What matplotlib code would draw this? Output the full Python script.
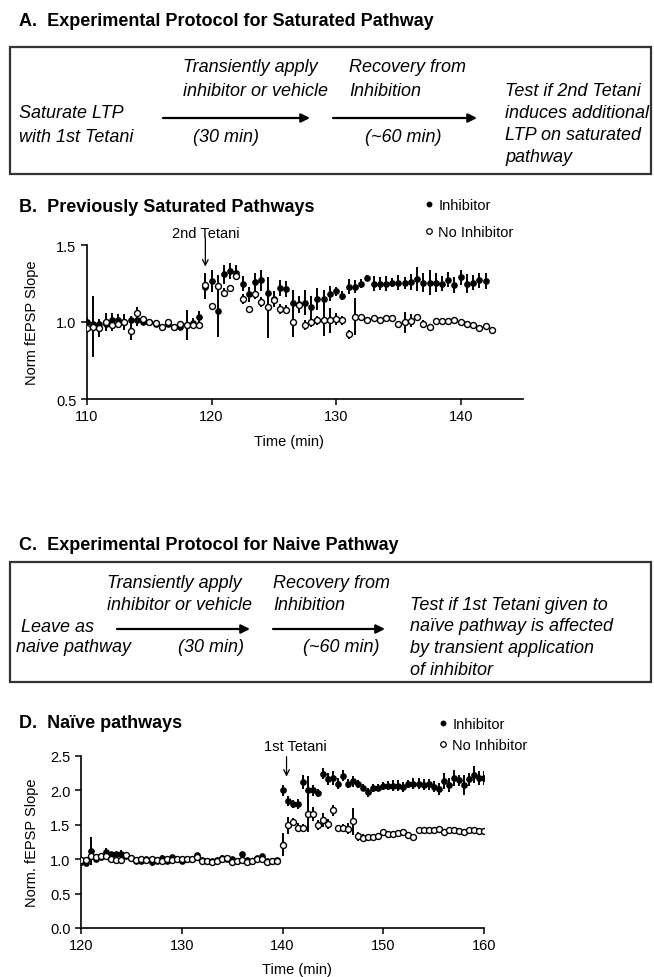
import numpy as np
import matplotlib
matplotlib.use("Agg")
import matplotlib.pyplot as plt
from matplotlib.lines import Line2D
from matplotlib.patches import Rectangle

plt.rcParams['font.family'] = ['Liberation Sans', 'DejaVu Sans']

# ---------------- data ----------------
# panel B: previously saturated pathways, sampled every 0.5 min from 110 min
b_t0, b_step, b_n = 110.0, 0.5, 66
b_inh = [1.00, 0.985, 0.985, 0.99, 1.01, 1.015, 1.00, 1.01, 1.015, 1.00,
         1.00, 0.99, 0.97, 0.99, 0.965, 0.965, 0.98, 0.995, 1.03, 1.23,
         1.265, 1.07, 1.31, 1.33, 1.32, 1.25, 1.18, 1.26, 1.27, 1.19,
         1.15, 1.22, 1.215, 1.125, 1.12, 1.125, 1.10, 1.15, 1.15, 1.185,
         1.20, 1.17, 1.23, 1.23, 1.25, 1.285, 1.25, 1.25, 1.25, 1.255,
         1.255, 1.255, 1.26, 1.28, 1.255, 1.255, 1.255, 1.25, 1.275, 1.24,
         1.29, 1.25, 1.255, 1.27, 1.265, np.nan]
b_inh_err = [0.03, 0.03, 0.03, 0.05, 0.05, 0.04, 0.05, 0.03, 0.04, 0.02,
             0.02, 0.02, 0.02, 0.02, 0.02, 0.02, 0.10, 0.03, 0.04, 0.08,
             0.07, 0.17, 0.06, 0.05, 0.05, 0.05, 0.05, 0.06, 0.07, 0.06,
             0.05, 0.05, 0.05, 0.08, 0.05, 0.08, 0.07, 0.07, 0.06, 0.05,
             0.03, 0.03, 0.05, 0.04, 0.03, 0.02, 0.05, 0.04, 0.05, 0.03,
             0.05, 0.04, 0.05, 0.08, 0.06, 0.08, 0.06, 0.05, 0.05, 0.05,
             0.05, 0.06, 0.05, 0.05, 0.05, np.nan]
b_noinh = [0.96, 0.97, 0.96, 1.00, 0.98, 0.99, 1.00, 0.94, 1.06, 1.02,
           1.00, 0.995, 0.97, 1.00, 0.97, 0.985, 0.98, 0.98, 0.98, 1.24,
           1.105, 1.237, 1.19, 1.22, 1.30, 1.15, 1.085, 1.18, 1.13, 1.095,
           1.14, 1.085, 1.08, 1.00, 1.11, 0.98, 1.00, 1.01, 1.01, 1.01,
           1.02, 1.01, 0.92, 1.035, 1.03, 1.013, 1.024, 1.01, 1.024, 1.024,
           0.987, 0.998, 1.009, 1.035, 0.99, 0.966, 1.004, 1.004, 1.009, 1.015,
           0.998, 0.987, 0.98, 0.96, 0.975, 0.95]
b_noinh_err = [0.02, 0.20, 0.06, 0.06, 0.04, 0.03, 0.03, 0.06, 0.04, 0.02,
               0.02, 0.02, 0.02, 0.02, 0.02, 0.02, 0.03, 0.02, 0.02, 0.08,
               0.02, 0.07, 0.03, 0.02, 0.02, 0.03, 0.02, 0.03, 0.03, 0.20,
               0.04, 0.03, 0.03, 0.10, 0.05, 0.03, 0.03, 0.03, 0.10, 0.08,
               0.04, 0.03, 0.03, 0.12, 0.02, 0.02, 0.02, 0.02, 0.02, 0.02,
               0.02, 0.07, 0.04, 0.02, 0.02, 0.02, 0.02, 0.02, 0.02, 0.02,
               0.02, 0.02, 0.02, 0.02, 0.02, 0.02]

# panel D: naive pathways, sampled every 0.5 min from 120 min
d_t0, d_step, d_n = 120.0, 0.5, 81
d_inh = [0.955, 0.945, 1.12, 1.00, 1.03, 1.10, 1.07, 1.07, 1.08, 1.04,
         1.02, 0.97, 0.98, 1.00, 0.96, 0.97, 1.02, 0.98, 1.03, 1.00,
         0.98, 1.00, 1.01, 1.06, 0.99, 0.97, 0.98, 0.99, 1.02, 1.01,
         1.00, 0.98, 1.07, 0.99, 0.98, 1.02, 1.04, 0.97, 0.98, 0.99,
         2.00, 1.85, 1.80, 1.80, 2.12, 2.01, 2.00, 1.96, 2.24, 2.17,
         2.18, 2.10, 2.21, 2.10, 2.13, 2.09, 2.04, 1.97, 2.03, 2.04,
         2.06, 2.07, 2.07, 2.07, 2.05, 2.09, 2.10, 2.10, 2.08, 2.09,
         2.05, 2.02, 2.14, 2.08, 2.18, 2.15, 2.08, 2.16, 2.23, 2.18,
         2.18]
d_inh_err = [0.03, 0.03, 0.20, 0.04, 0.03, 0.06, 0.03, 0.03, 0.05, 0.02,
             0.03, 0.03, 0.04, 0.02, 0.06, 0.03, 0.04, 0.03, 0.03, 0.02,
             0.02, 0.02, 0.02, 0.03, 0.02, 0.02, 0.02, 0.03, 0.04, 0.02,
             0.03, 0.03, 0.04, 0.03, 0.03, 0.02, 0.02, 0.03, 0.02, 0.02,
             0.08, 0.07, 0.06, 0.07, 0.10, 0.20, 0.08, 0.06, 0.08, 0.09,
             0.10, 0.08, 0.08, 0.07, 0.08, 0.06, 0.05, 0.07, 0.06, 0.05,
             0.06, 0.07, 0.08, 0.08, 0.07, 0.06, 0.08, 0.08, 0.08, 0.08,
             0.08, 0.09, 0.12, 0.10, 0.12, 0.08, 0.15, 0.09, 0.12, 0.10,
             0.10]
d_noinh = [0.99, 0.99, 1.04, 1.03, 1.05, 1.04, 1.00, 0.99, 0.99, 1.06,
           1.02, 0.99, 1.01, 0.99, 1.00, 0.99, 0.98, 1.00, 0.99, 1.01,
           1.00, 1.01, 1.00, 1.03, 0.98, 0.97, 0.96, 0.97, 1.01, 1.02,
           0.96, 0.98, 0.99, 0.96, 0.98, 1.01, 1.00, 0.96, 0.97, 0.97,
           1.21, 1.49, 1.54, 1.46, 1.45, 1.65, 1.66, 1.50, 1.57, 1.51,
           1.71, 1.45, 1.45, 1.44, 1.55, 1.33, 1.31, 1.32, 1.32, 1.33,
           1.39, 1.36, 1.37, 1.38, 1.39, 1.35, 1.32, 1.43, 1.42, 1.42,
           1.43, 1.44, 1.40, 1.42, 1.43, 1.41, 1.40, 1.42, 1.43, 1.41,
           1.41]
d_noinh_err = [0.03, 0.03, 0.04, 0.03, 0.03, 0.03, 0.03, 0.02, 0.03, 0.02,
               0.02, 0.02, 0.03, 0.02, 0.02, 0.02, 0.02, 0.02, 0.02, 0.02,
               0.02, 0.02, 0.02, 0.02, 0.02, 0.02, 0.02, 0.02, 0.02, 0.02,
               0.02, 0.03, 0.02, 0.02, 0.02, 0.02, 0.02, 0.02, 0.02, 0.02,
               0.17, 0.12, 0.06, 0.06, 0.06, 0.25, 0.10, 0.07, 0.10, 0.07,
               0.08, 0.05, 0.06, 0.08, 0.20, 0.06, 0.05, 0.04, 0.04, 0.04,
               0.04, 0.04, 0.04, 0.04, 0.04, 0.04, 0.04, 0.03, 0.03, 0.03,
               0.03, 0.03, 0.03, 0.03, 0.03, 0.03, 0.03, 0.03, 0.03, 0.03,
               0.03]

legend_labels = ['Inhibitor', 'No Inhibitor']

box_a_steps = ['Transiently apply', 'inhibitor or vehicle']
box_a_recov = ['Recovery from', 'Inhibition']
box_a_start = ['Saturate LTP', 'with 1st Tetani']
box_a_test = ['Test if 2nd Tetani', 'induces additional', 'LTP on saturated', 'pathway']
box_c_start = ['Leave as', 'naive pathway']
box_c_test = ['Test if 1st Tetani given to', 'naïve pathway is affected',
              'by transient application', 'of inhibitor']

W, H = 654, 978
TXT = 13
fig = plt.figure(figsize=(W / 100, H / 100), dpi=100)

# overlay in pixel coordinates for the titles and protocol boxes
ov = fig.add_axes([0, 0, 1, 1])
ov.set_xlim(0, W)
ov.set_ylim(H, 0)
ov.axis('off')


def itext(x, y, s, ha='left'):
    ov.text(x, y, s, style='italic', fontsize=TXT, ha=ha, va='center')


def lines(x, y0, txt, step=22.5, ha='left'):
    for i, s in enumerate(txt):
        itext(x, y0 + i * step, s, ha=ha)


def title(x, y, s):
    ov.text(x, y, s, fontsize=TXT, fontweight='bold', va='center')


def arrow(x0, x1, y):
    ov.annotate('', xy=(x1, y), xytext=(x0, y),
                arrowprops=dict(arrowstyle='-|>', lw=1.6, color='k', mutation_scale=13,
                                shrinkA=0, shrinkB=0))


def box(y0, y1):
    ov.add_patch(Rectangle((10, y0), 641, y1 - y0, fill=False, lw=1.6, ec='#333333'))


# Panel A
title(19, 22, 'A.  Experimental Protocol for Saturated Pathway')
box(48, 175)
lines(19, 113, box_a_start, step=24)
lines(183, 68, box_a_steps, step=24)
lines(349, 68, box_a_recov, step=24)
arrow(163, 310, 119)
arrow(333, 477, 119)
itext(193, 137, '(30 min)')
itext(365, 137, '(~60 min)')
lines(505, 92, box_a_test, step=22)

# Panel C
title(19, 545, 'C.  Experimental Protocol for Naive Pathway')
box(563, 683)
lines(107, 583, box_a_steps, step=22)
lines(273, 583, box_a_recov, step=22)
itext(21, 627, box_c_start[0])
itext(16, 648, box_c_start[1])
arrow(117, 250, 630)
arrow(273, 385, 630)
itext(178, 648, '(30 min)')
itext(303, 648, '(~60 min)')
lines(410, 605, box_c_test, step=21.7)

title(19, 208, 'B.  Previously Saturated Pathways')
title(19, 723, 'D.  Naïve pathways')


def panel(rect, t0, step, n, inh, inh_err, noinh, noinh_err):
    ax = fig.add_axes(rect)
    t = t0 + step * np.arange(n)
    ax.errorbar(t, inh, yerr=inh_err, fmt='o', color='k', ms=3.8, elinewidth=1.4,
                capsize=0, zorder=3)
    ax.errorbar(t, noinh, yerr=noinh_err, fmt='o', color='k', mfc='white', mec='k',
                mew=1.0, ms=4.3, elinewidth=1.4, capsize=0, zorder=4)
    for s in ['top', 'right']:
        ax.spines[s].set_visible(False)
    for s in ['left', 'bottom']:
        ax.spines[s].set_linewidth(1.2)
    ax.tick_params(direction='out', length=4, width=1.1, labelsize=10.5)
    return ax


def px_rect(x0, x1, ytop, ybot):
    return [x0 / W, 1 - ybot / H, (x1 - x0) / W, (ybot - ytop) / H]


handles = [Line2D([], [], marker='o', ls='none', color='k', ms=3.2),
           Line2D([], [], marker='o', ls='none', mfc='white', mec='k', mew=0.9, ms=4)]

# Panel B
axb = panel(px_rect(87, 523, 246, 400), b_t0, b_step, b_n,
            b_inh, b_inh_err, b_noinh, b_noinh_err)
axb.set_xlim(110, 145)
axb.set_ylim(0.5, 1.5)
axb.set_xticks([110, 120, 130, 140])
axb.set_yticks([0.5, 1.0, 1.5])
axb.set_yticklabels(['0.5', '1.0', '1.5'])
axb.set_xlabel('Time (min)', fontsize=10.5)
axb.xaxis.set_label_coords(0.463, -0.225)
axb.set_ylabel('Norm fEPSP Slope', fontsize=10.5)
axb.yaxis.set_label_coords(-0.11, 0.5)
axb.text(119.55, 1.58, '2nd Tetani', ha='center', va='center', fontsize=10.5, clip_on=False)
axb.annotate('', xy=(119.5, 1.36), xytext=(119.5, 1.545), annotation_clip=False,
             arrowprops=dict(arrowstyle='->', lw=0.9, color='k', shrinkA=0, shrinkB=0))
axb.legend(handles, legend_labels, loc='upper left', bbox_to_anchor=(425 / W, 1 - 199 / H),
           bbox_transform=fig.transFigure, frameon=False, fontsize=10.5, borderpad=0,
           borderaxespad=0, handlelength=0.5, handletextpad=0.4, labelspacing=0.9)

# Panel D
axd = panel(px_rect(81, 484, 757, 929), d_t0, d_step, d_n,
            d_inh, d_inh_err, d_noinh, d_noinh_err)
axd.set_xlim(120, 160)
axd.set_ylim(0, 2.5)
axd.set_xticks([120, 130, 140, 150, 160])
axd.set_yticks([0, 0.5, 1.0, 1.5, 2.0, 2.5])
axd.set_yticklabels(['0.0', '0.5', '1.0', '1.5', '2.0', '2.5'])
axd.set_xlabel('Time (min)', fontsize=10.5)
axd.xaxis.set_label_coords(0.536, -0.195)
axd.set_ylabel('Norm. fEPSP Slope', fontsize=10.5)
axd.yaxis.set_label_coords(-0.105, 0.5)
axd.text(141.3, 2.64, '1st Tetani', ha='center', va='center', fontsize=10.5, clip_on=False)
axd.annotate('', xy=(140.4, 2.2), xytext=(140.4, 2.49), annotation_clip=False,
             arrowprops=dict(arrowstyle='->', lw=0.9, color='k', shrinkA=0, shrinkB=0))
axd.legend(handles, legend_labels, loc='upper left', bbox_to_anchor=(439 / W, 1 - 718 / H),
           bbox_transform=fig.transFigure, frameon=False, fontsize=10.5, borderpad=0,
           borderaxespad=0, handlelength=0.5, handletextpad=0.4, labelspacing=0.5)

fig.savefig('out.png', dpi=100)
